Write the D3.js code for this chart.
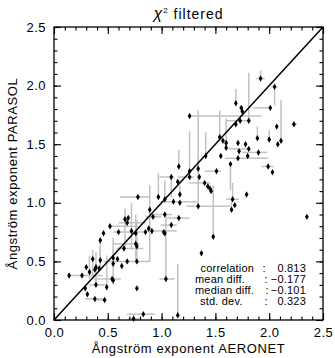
<!DOCTYPE html>
<html><head><meta charset="utf-8">
<script src="https://cdn.jsdelivr.net/npm/d3@7"></script>
<style>
html,body{margin:0;padding:0;background:#fff;}
svg{display:block;}
text{font-family:"Liberation Sans",Arial,sans-serif;fill:#000;}
</style></head>
<body>
<svg id="chart" width="335" height="358"></svg>
<script>
// ---- data ----
const aeronet = [1.92,2.05,1.69,1.74,1.75,2.01,1.81,1.73,1.69,2.23,2.07,1.60,1.60,1.71,1.78,1.72,1.81,1.89,2.00,2.11,2.08,1.90,1.80,1.71,1.64,1.99,2.03,1.57,1.54,1.55,1.26,
  1.41,1.16,1.09,1.15,1.26,1.26,1.34,1.35,1.51,1.40,1.43,1.45,1.46,1.79,1.66,1.68,1.65,1.34,1.11,1.17,1.17,1.03,0.97,0.78,0.89,0.92,1.03,1.09,1.16,0.85,0.88,0.91,1.02,1.03,1.48,1.37,1.04,2.35,
  0.66,0.69,0.68,0.52,0.46,0.43,0.60,0.72,0.76,0.76,0.77,0.65,0.63,0.55,0.55,0.59,0.68,0.77,0.36,0.43,0.30,0.39,0.38,0.42,0.33,0.14,0.26,0.54,0.55,0.39,0.49,0.77,0.29,0.31,0.38,0.47,0.74,0.83,1.15];
const parasol = [2.06,1.99,1.85,1.81,1.78,1.81,1.70,1.70,1.67,1.67,1.65,1.51,1.47,1.51,1.50,1.44,1.46,1.55,1.54,1.53,1.50,1.43,1.40,1.38,1.33,1.31,1.26,1.53,1.56,1.40,1.74,
  1.40,1.31,1.22,1.18,1.27,1.22,1.29,1.22,1.27,1.17,1.14,1.12,1.10,1.07,1.03,0.98,0.94,0.97,1.01,1.00,1.07,1.03,1.05,1.05,0.94,0.88,0.90,0.81,0.87,0.75,0.78,0.76,0.75,0.74,0.71,0.57,0.35,0.88,
  0.86,0.87,0.83,0.80,0.74,0.68,0.75,0.76,0.74,0.65,0.63,0.61,0.46,0.48,0.53,0.52,0.50,0.50,0.52,0.51,0.45,0.45,0.43,0.44,0.41,0.38,0.38,0.35,0.34,0.30,0.28,0.27,0.27,0.22,0.18,0.17,0.01,0.05,0.04];
// error-bar end points (AERONET low/high, PARASOL low/high); same as value = no bar
const aeronetLow  = [1.88,2.02,1.69,1.74,1.75,1.85,1.81,1.60,1.69,2.20,2.07,1.60,1.60,1.71,1.78,1.72,1.62,1.89,2.00,2.11,2.08,1.75,1.80,1.59,1.64,1.93,2.03,1.57,1.54,1.55,1.26,
  1.41,1.16,0.98,1.15,1.26,1.15,1.34,1.35,1.40,1.26,1.43,1.45,1.46,1.79,1.60,1.68,1.65,1.23,0.99,1.17,1.17,1.03,0.97,0.61,0.89,0.85,0.90,0.99,1.05,0.85,0.88,0.86,1.02,1.03,1.48,1.37,0.98,2.35,
  0.66,0.69,0.60,0.52,0.46,0.43,0.55,0.72,0.76,0.55,0.77,0.58,0.63,0.55,0.55,0.59,0.46,0.77,0.36,0.43,0.30,0.39,0.38,0.42,0.33,0.14,0.26,0.37,0.55,0.33,0.49,0.77,0.29,0.31,0.29,0.40,0.69,0.68,1.15];
const aeronetHigh = [1.96,2.08,1.69,1.74,1.75,2.01,1.81,1.82,1.69,2.26,2.07,1.60,1.60,1.71,1.78,1.72,1.81,1.89,2.00,2.11,2.08,1.98,1.80,1.99,1.64,2.04,2.03,1.57,1.54,1.55,1.93,
  1.41,1.16,1.12,1.15,1.26,1.30,1.34,1.35,1.55,1.45,1.43,1.45,1.46,1.79,1.72,1.68,1.65,1.64,1.33,1.17,1.17,1.03,0.97,0.89,0.89,1.00,1.10,1.14,1.26,0.85,0.88,1.14,1.02,1.03,1.48,1.37,1.12,2.35,
  0.66,0.69,0.85,0.78,0.46,0.43,0.85,0.72,0.76,0.80,0.77,0.83,0.63,0.55,0.55,0.59,0.89,0.77,0.36,0.43,0.30,0.39,0.38,0.42,0.33,0.45,0.26,0.62,0.55,0.48,0.49,0.77,0.29,0.31,0.47,0.49,0.80,0.94,1.15];
const parasolLow  = [2.06,1.83,1.85,1.81,1.78,1.81,1.70,1.70,1.67,1.67,1.65,1.51,1.47,1.51,1.50,1.44,1.46,1.55,1.54,1.53,1.50,1.43,1.40,1.38,1.11,1.31,1.26,1.53,1.56,1.40,1.74,
  1.40,1.31,1.05,1.18,1.27,1.22,1.29,1.22,1.27,1.17,1.14,1.12,1.10,1.07,1.03,0.98,0.94,0.97,1.01,1.00,1.07,1.03,1.05,1.05,0.50,0.88,0.90,0.81,0.87,0.75,0.78,0.76,0.75,0.74,0.71,0.57,0.35,0.88,
  0.60,0.87,0.83,0.80,0.74,0.50,0.75,0.60,0.50,0.65,0.63,0.61,0.46,0.30,0.53,0.52,0.50,0.50,0.37,0.45,0.45,0.30,0.43,0.44,0.35,0.38,0.38,0.35,0.34,0.30,0.28,0.27,0.27,0.22,0.18,0.17,0.01,0.05,0.04];
const parasolHigh = [2.13,1.99,1.97,1.81,1.78,1.81,2.11,1.70,1.67,1.67,1.65,1.72,1.47,1.51,1.50,1.44,1.46,1.65,1.62,1.88,1.50,1.43,1.40,1.38,1.33,1.31,1.26,1.53,1.79,1.40,1.74,
  1.60,1.45,1.22,1.18,1.61,1.22,1.79,1.22,1.27,1.17,1.14,1.12,1.10,1.07,1.17,0.98,1.03,1.39,1.01,1.00,1.15,1.19,1.25,1.05,1.15,0.88,0.90,0.81,0.87,0.75,0.78,0.76,0.75,0.74,1.15,0.57,0.91,0.88,
  0.95,0.87,0.83,0.80,0.74,0.68,0.75,1.00,0.90,0.65,0.63,0.61,0.46,0.60,0.70,0.52,0.50,0.85,0.60,0.62,0.45,0.58,0.43,0.44,0.55,0.38,0.38,0.35,0.34,0.30,0.55,0.27,0.27,0.22,0.18,0.17,0.01,0.05,0.48];

const title = "filtered";
const xLabel = "Ångström exponent AERONET";
const yLabel = "Ångström exponent PARASOL";
const tickValues = [0.0,0.5,1.0,1.5,2.0,2.5];
const minorTicks = d3.range(0,26).map(d=>d/10);
const statNames = ["correlation","mean diff.","median diff.","std. dev."];
const statValues = ["0.813","\u22120.177","\u22120.101","0.323"];

// ---- layout ----
const svg = d3.select("#chart");
const L=54, R=323, T=27, B=320;
const x = d3.scaleLinear().domain([0,2.5]).range([L,R]);
const y = d3.scaleLinear().domain([0,2.5]).range([B,T]);
const idx = d3.range(aeronet.length);

// error bars
const eb = svg.append("g").attr("stroke","#c2c2c2").attr("stroke-width",1.5);
idx.forEach(i=>{
  if (aeronetHigh[i]!==aeronetLow[i]) eb.append("line").attr("x1",x(aeronetLow[i])).attr("x2",x(aeronetHigh[i])).attr("y1",y(parasol[i])).attr("y2",y(parasol[i]));
  if (parasolHigh[i]!==parasolLow[i]) eb.append("line").attr("x1",x(aeronet[i])).attr("x2",x(aeronet[i])).attr("y1",y(parasolLow[i])).attr("y2",y(parasolHigh[i]));
});

// 1:1 line
svg.append("line").attr("x1",x(0)).attr("y1",y(0)).attr("x2",x(2.5)).attr("y2",y(2.5))
  .attr("stroke","#000").attr("stroke-width",1.5);

// points
svg.append("g").selectAll("path").data(idx).join("path")
  .attr("transform",i=>`translate(${x(aeronet[i])},${y(parasol[i])})`)
  .attr("d",d3.symbol(d3.symbolDiamond,12))
  .attr("fill","#000");

// axes (ticks inward on all sides)
function addAxis(gen, tx, ty, labels){
  const major = svg.append("g").attr("transform",`translate(${tx},${ty})`)
    .call(gen.tickValues(tickValues).tickSizeInner(-7).tickSizeOuter(0).tickPadding(labels?8:0)
      .tickFormat(labels?d3.format(".1f"):""));
  major.select(".domain").remove();
  major.selectAll("text").attr("font-size","13px").attr("letter-spacing","0.5px")
    .attr("font-family",'"Liberation Sans",Arial,sans-serif');
  major.selectAll("line").attr("stroke-width",1.1);
  const minor = svg.append("g").attr("transform",`translate(${tx},${ty})`)
    .call(gen.tickValues(minorTicks).tickSizeInner(-3.5).tickSizeOuter(0).tickFormat(""));
  minor.select(".domain").remove();
  minor.selectAll("line").attr("stroke-width",1.1);
}
addAxis(d3.axisBottom(x), 0, B, true);
addAxis(d3.axisTop(x), 0, T, false);
addAxis(d3.axisLeft(y), L, 0, true);
addAxis(d3.axisRight(y), R, 0, false);

svg.append("rect").attr("x",L).attr("y",T).attr("width",R-L).attr("height",B-T)
  .attr("fill","none").attr("stroke","#000").attr("stroke-width",1.3);

// title
const tt = svg.append("text").attr("x",(L+R)/2).attr("y",19).attr("text-anchor","middle")
  .attr("font-size","14px").attr("letter-spacing","1px");
tt.append("tspan").attr("font-style","italic").attr("font-size","16px").text("χ");
tt.append("tspan").attr("font-size","8px").attr("dy","-6").text("2");
tt.append("tspan").attr("dy","6").text("\u00a0" + title);

// axis labels
svg.append("text").attr("x",(L+R)/2).attr("y",353).attr("text-anchor","middle")
  .attr("font-size","13px").attr("letter-spacing","0.6px").text(xLabel);
svg.append("text").attr("transform",`translate(17,${(T+B)/2}) rotate(-90)`).attr("text-anchor","middle")
  .attr("font-size","13px").attr("letter-spacing","0.6px").text(yLabel);

// stats
const sx0 = [200.5,195,195,200], cx = [264,266,267,266];
statNames.forEach((s,i)=>{
  const yy = 271.5 + i*11.3;
  svg.append("text").attr("x",sx0[i]).attr("y",yy).attr("font-size","11px").attr("letter-spacing","0.2px").text(s);
  svg.append("text").attr("x",cx[i]).attr("y",yy).attr("font-size","11px").attr("text-anchor","middle").text(":");
  svg.append("text").attr("x",306).attr("y",yy).attr("font-size","11px").attr("letter-spacing","0.2px").attr("text-anchor","end").text(statValues[i]);
});
</script>
</body></html>
